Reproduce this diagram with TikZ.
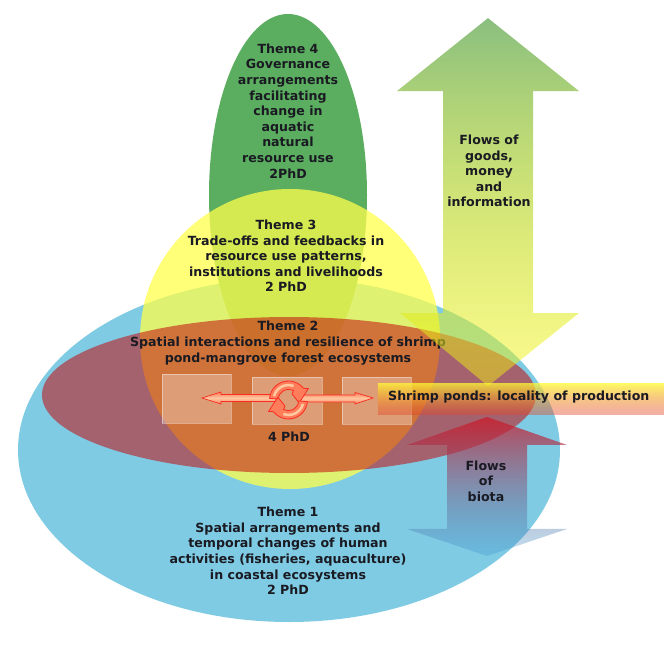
\documentclass[tikz,border=0pt]{standalone}
\usepackage{fontspec}
\setmainfont{DejaVu Sans}
\usetikzlibrary{calc,fadings}
\definecolor{txt}{HTML}{1A1A22}
\definecolor{cgreen}{RGB}{91,174,96}
\definecolor{cblue}{RGB}{127,203,228}
\definecolor{cyel}{RGB}{255,255,75}
\definecolor{cred}{RGB}{196,12,15}
\definecolor{fltop}{RGB}{138,191,128}
\definecolor{flbot}{RGB}{247,247,9}
\definecolor{bitop}{RGB}{205,25,40}
\definecolor{bibot}{RGB}{55,150,210}
\definecolor{batop}{RGB}{255,245,50}
\definecolor{babot}{RGB}{226,60,40}
\definecolor{rline}{RGB}{250,45,35}
\definecolor{rfill}{RGB}{255,125,90}
\definecolor{rlight}{RGB}{255,200,160}
\tikzfading[name=goodsfade,top color=transparent!0,bottom color=transparent!55]
\tikzfading[name=biotafade,top color=transparent!25,bottom color=transparent!70]
\tikzfading[name=bannerfade,top color=transparent!25,bottom color=transparent!60]
\tikzset{
  x=1pt,y=-1pt,
  lbl/.style={align=center,font=\bfseries\fontsize{12.6}{15.6}\selectfont,text=txt,inner sep=0pt},
  pane/.style={fill=white,fill opacity=.3,draw=white,draw opacity=.4,line width=1pt,inner sep=0pt},
  flatarrow/.style={draw=rline,line width=.7pt,top color=rfill,bottom color=rfill,middle color=rlight},
  ringarrow/.style={draw=rline,line width=.8pt,fill=rfill},
  ridge/.style={draw=rlight,line width=2.5pt},
}
\begin{document}
\begin{tikzpicture}
\useasboundingbox (0,0) rectangle (670,663);
\fill[white] (0,0) rectangle (670,663);
% theme ellipses
\fill[cblue] (289,450) ellipse [x radius=271,y radius=172];
\fill[cgreen] (288,195) ellipse [x radius=79,y radius=181];
\fill[cyel,fill opacity=.75] (290,339) circle [radius=150];
\fill[cred,fill opacity=.55] (289,395) ellipse [x radius=247,y radius=78];
% texts under the arrows
\node[lbl] (t2) at (288,343) {Theme 2\\Spatial interactions and resilience of shrimp\\pond-mangrove forest ecosystems};
% flow arrows
\shade[top color=fltop,bottom color=flbot,path fading=goodsfade]
 (488,18) -- (579,91) -- (533,91) -- (533,313) -- (579,313) -- (488,386) -- (400,313) -- (443,313) -- (443,91) -- (397,91) -- cycle;
\shade[top color=bitop,bottom color=bibot,path fading=biotafade]
 (487,417) -- (567,445) -- (527,445) -- (527,529) -- (567,529) -- (487,556) -- (407,529) -- (447,529) -- (447,445) -- (407,445) -- cycle;
% panes
\node[pane,minimum width=69,minimum height=49] (pl) at (196.5,398.5) {};
\node[pane,minimum width=70,minimum height=47] (pm) at (287,400.5) {};
\node[pane,minimum width=69,minimum height=47] (pr) at (376.5,400.5) {};
% banner
\shade[top color=batop,bottom color=babot,path fading=bannerfade]
 (378,384) rectangle (664,415);
% small arrows
\path[flatarrow] (202,398) -- (221,392) -- (221,394.5) -- (276,394.5) -- (276,401.5) -- (221,401.5) -- (221,404) -- cycle;
\path[flatarrow] (373,398) -- (355,392.5) -- (355,395) -- (300,395) -- (300,402) -- (355,402) -- (355,404) -- cycle;
% cycle arrows
\begin{scope}[shift={(288.5,400)},y=1pt]
 \foreach \r in {0,180}{
  \begin{scope}[rotate=\r]
   \path[ringarrow] (175:19) arc[start angle=175,end angle=38,radius=19] -- (30:23) -- (-15:11) -- (60:7) -- (62:10.5) arc[start angle=62,end angle=175,radius=10.5] -- cycle;
   \draw[ridge] (165:15) arc[start angle=165,end angle=70,radius=15];
  \end{scope}}
\end{scope}
% texts
\node[lbl] (t4) at (288,111) {Theme 4\\Governance\\arrangements\\facilitating\\change in\\aquatic\\natural\\resource use\\2PhD};
\node[lbl] (t3) at (286,256) {Theme 3\\Trade-offs and feedbacks in\\resource use patterns,\\institutions and livelihoods\\2 PhD};
\node[lbl] (t2b) at (289,437) {4 PhD};
\node[lbl] (t1) at (288,551) {Theme 1\\Spatial arrangements and\\temporal changes of human\\activities (fisheries, aquaculture)\\in coastal ecosystems\\2 PhD};
\node[lbl] (f1) at (489,171) {Flows of\\goods,\\money\\and\\information};
\node[lbl] (f2) at (486,481) {Flows\\of\\biota};
\node[lbl,anchor=west] (sp) at (388,397) {Shrimp ponds: locality of production};
\end{tikzpicture}
\end{document}
